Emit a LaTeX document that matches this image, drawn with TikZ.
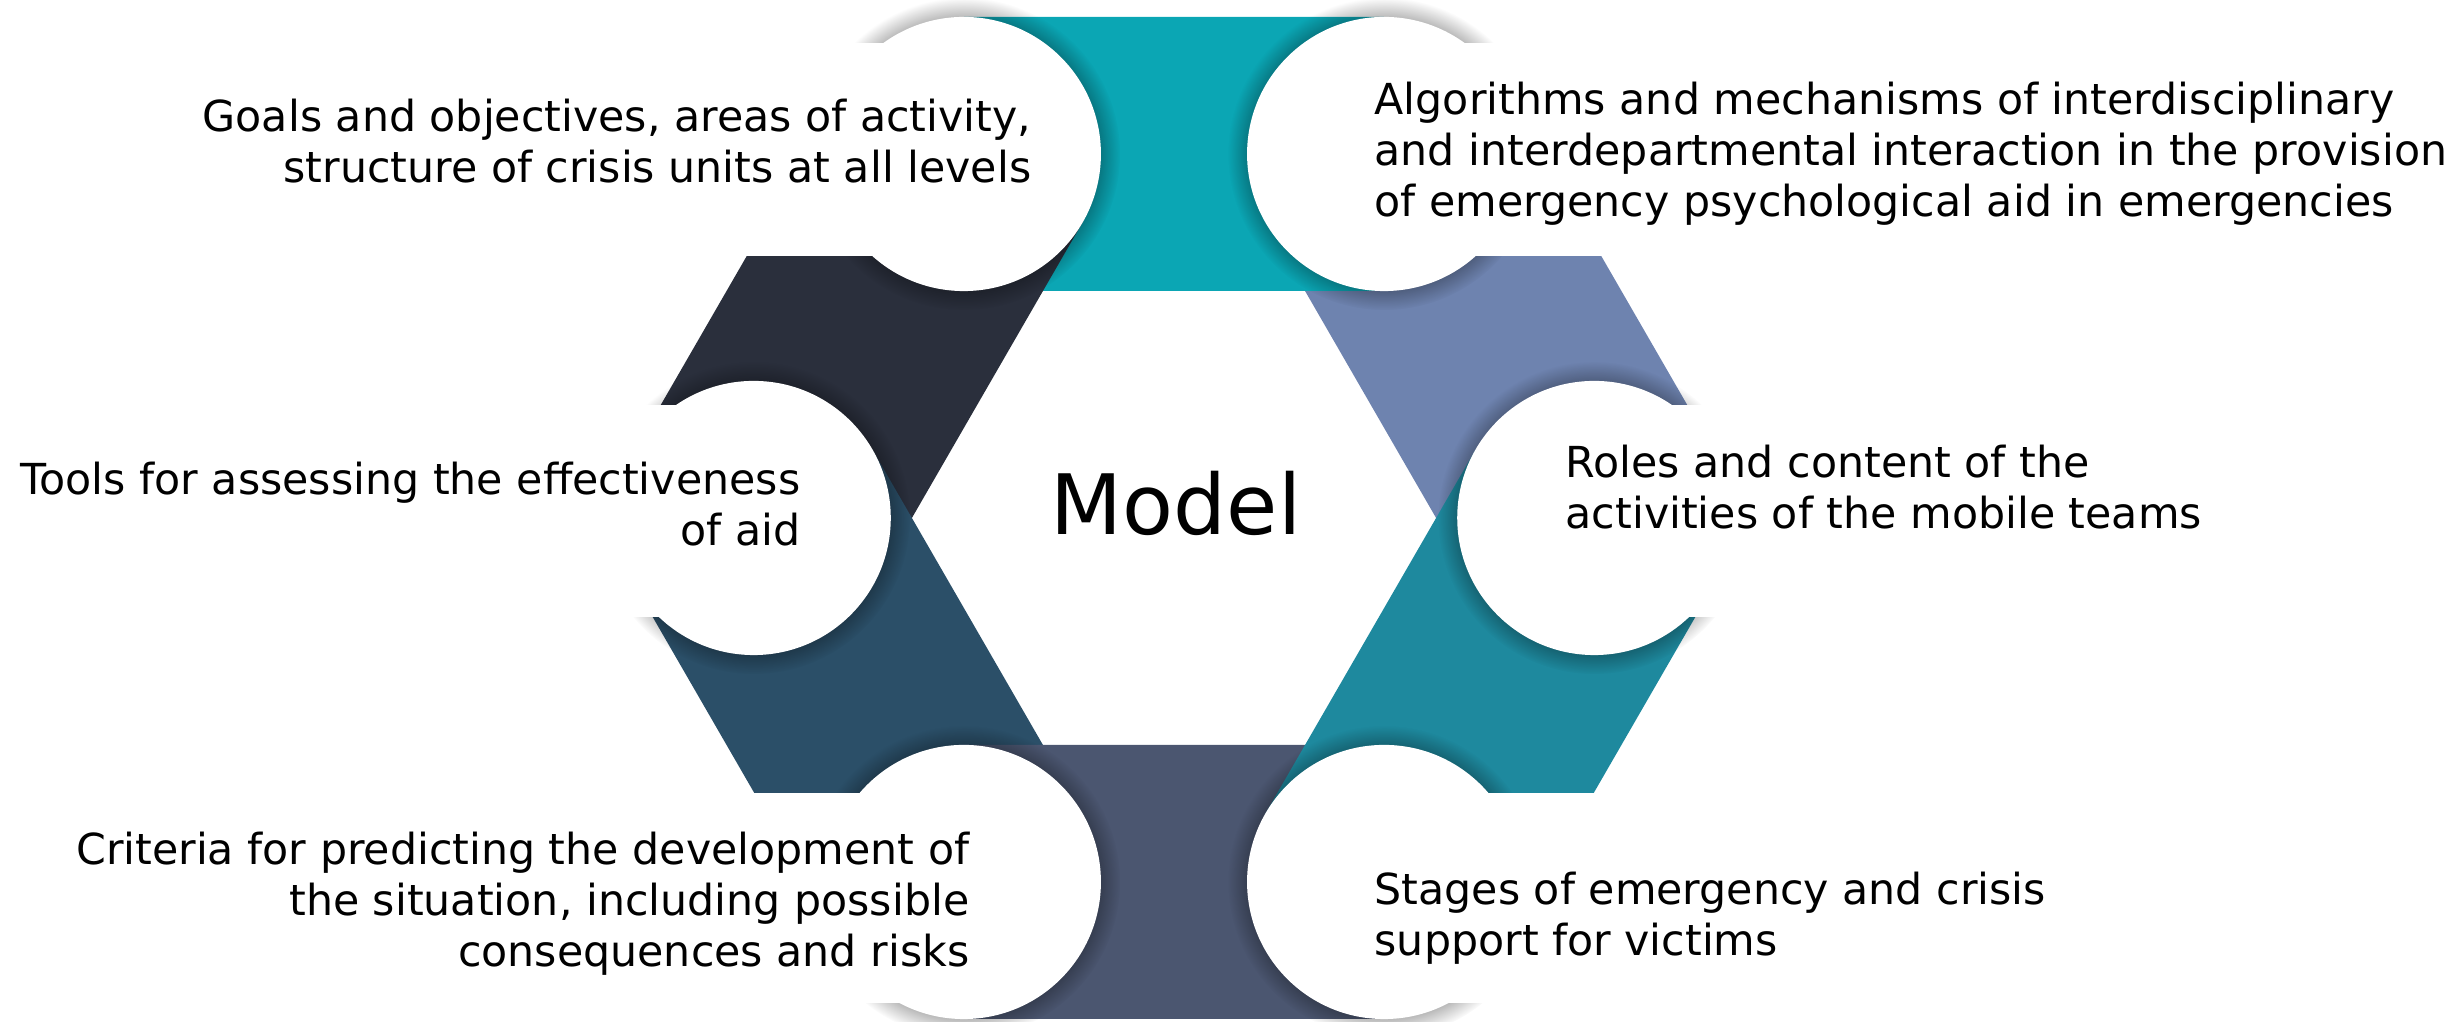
\documentclass[tikz,border=0pt]{standalone}
\usepackage{fontspec}
\setmainfont{DejaVu Sans}
\usetikzlibrary{calc,fadings}
\definecolor{cTop}{HTML}{0BA6B4}
\definecolor{cUR}{HTML}{6E83AF}
\definecolor{cLR}{HTML}{1E899E}
\definecolor{cBot}{HTML}{4B5670}
\definecolor{cLL}{HTML}{2B4F68}
\definecolor{cUL}{HTML}{2A2F3C}
\tikzset{
  disc/.style={circle, fill=white, minimum size=2.74cm, inner sep=0pt},
  glow/.style={fill=black, opacity=0.32, path fading=circle with fuzzy edge 15 percent},
  lbl/.style={inner sep=0pt, font=\fontsize{12.15}{14.5}\selectfont},
  cover/.style={fill=white}
}
\begin{document}
\begin{tikzpicture}[x=0.01cm,y=0.01cm]
\useasboundingbox (0,0) rectangle (2447,1022);
\def\Rin{262.1}
\def\Rmid{420.3}
\def\rc{137}
\coordinate (O) at (1174,504);
\foreach \v in {0,60,120,180,240,300}{
  \coordinate (C\v) at ($(O)+(\v:\Rmid)$);
  \coordinate (V\v) at ($(O)+(\v:\Rin)$);
}
% segments (drawing order gives overlaps at inner vertices)
\fill[cUR] (C0) -- (V0) -- (V60) -- (C60) -- ($(C60)+(30:\rc)$) -- ($(C0)+(30:\rc)$) -- cycle;
\fill[cTop] (C60) -- ($(V60)+(0:80)$) -- (V60) -- (V120) -- (C120) -- ($(C120)+(90:\rc)$) -- ($(C60)+(90:\rc)$) -- cycle;
\fill[cUL] (C120) -- ($(V120)+(60:80)$) -- (V120) -- (V180) -- (C180) -- ($(C180)+(150:\rc)$) -- ($(C120)+(150:\rc)$) -- cycle;
\fill[cLL] (C180) -- ($(V180)+(120:80)$) -- (V180) -- (V240) -- (C240) -- ($(C240)+(210:\rc)$) -- ($(C180)+(210:\rc)$) -- cycle;
\fill[cBot] (C240) -- ($(V240)+(180:80)$) -- (V240) -- (V300) -- (C300) -- ($(C300)+(270:\rc)$) -- ($(C240)+(270:\rc)$) -- cycle;
\fill[cLR] (C300) -- ($(V300)+(240:80)$) -- (V300) -- (V0) -- ($(V0)+(60:80)$) -- (C0) -- ($(C0)+(330:\rc)$) -- ($(C300)+(330:\rc)$) -- cycle;
% soft shadows round the discs
\foreach \v in {0,60,120,180,240,300}{
  \fill[glow] (C\v) circle[radius=1.56cm];
}
% white text panels
\fill[cover] (180,766) rectangle (964,979);
\fill[cover] (1384,766) rectangle (2447,979);
\fill[cover] (0,405) rectangle (754,617);
\fill[cover] (1594,405) rectangle (2447,617);
\fill[cover] (0,19) rectangle (964,229);
\fill[cover] (1384,19) rectangle (2447,229);
% discs
\node[disc] (d120) at (C120) {};
\node[disc] (d60) at (C60) {};
\node[disc] (d0) at (C0) {};
\node[disc] (d300) at (C300) {};
\node[disc] (d240) at (C240) {};
\node[disc] (d180) at (C180) {};
% texts
\node[lbl, anchor=base east] (tTL) at (1032,890) {\begin{tabular}[t]{@{}r@{}}Goals and objectives, areas of activity,\\structure of crisis units at all levels\end{tabular}};
\node[lbl, anchor=base west] (tTR) at (1374,907) {\begin{tabular}[t]{@{}l@{}}Algorithms and mechanisms of interdisciplinary\\and interdepartmental interaction in the provision\\of emergency psychological aid in emergencies\end{tabular}};
\node[lbl, anchor=base east] (tL) at (801,527) {\begin{tabular}[t]{@{}r@{}}Tools for assessing the effectiveness\\of aid\end{tabular}};
\node[lbl, anchor=base west] (tR) at (1565,544) {\begin{tabular}[t]{@{}l@{}}Roles and content of the\\activities of the mobile teams\end{tabular}};
\node[lbl, anchor=base east] (tBL) at (970,157) {\begin{tabular}[t]{@{}r@{}}Criteria for predicting the development of\\the situation, including possible\\consequences and risks\end{tabular}};
\node[lbl, anchor=base west] (tBR) at (1374,117) {\begin{tabular}[t]{@{}l@{}}Stages of emergency and crisis\\support for victims\end{tabular}};
\node[inner sep=0pt, anchor=base, font=\fontsize{23.7}{28}\selectfont] (model) at (1176,487) {Model};
\end{tikzpicture}
\end{document}
